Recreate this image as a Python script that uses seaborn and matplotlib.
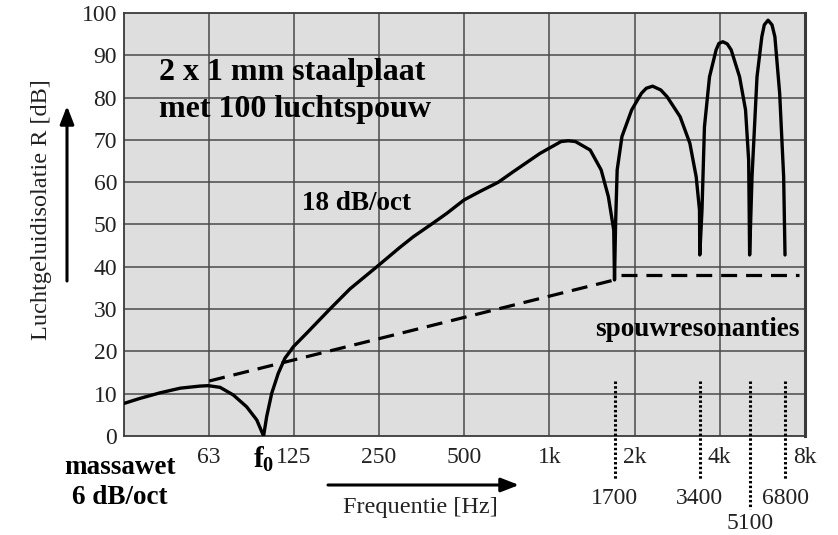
import matplotlib
matplotlib.use("Agg")
import matplotlib.pyplot as plt
import seaborn as sns

# axis ticks
freq_ticks = [63, 125, 250, 500, 1000, 2000, 4000, 8000]
freq_tick_labels = ["63", "125", "250", "500", "1k", "2k", "4k", "8k"]
db_ticks = list(range(0, 101, 10))

# mass-spring-mass resonance and cavity resonances [Hz]
f0 = 98
resonance_freqs = [1700, 3400, 5100, 6800]
resonance_labels = ["1700", "3400", "5100", "6800"]

# sound reduction index of the double steel panel
curve_freq = [31.5, 35.9, 42.2, 49.7, 58.4, 62.5, 68.8, 76.6, 85.4, 92.7, 98,
              100.5, 104.7, 110.4, 116.6, 121.5, 124.8, 139.1, 168, 198,
              246, 297, 331, 390, 434, 500, 569, 661, 747, 927, 1100, 1167,
              1238, 1395, 1525, 1617, 1689, 1700,
              1715, 1737, 1806, 1955, 2115, 2200, 2317, 2477, 2607, 2897,
              3137, 3302, 3393, 3400,
              3462, 3532, 3680, 3884, 3972, 4102, 4250, 4388, 4700, 4933,
              5060, 5100,
              5200, 5415, 5632, 5746, 5924, 6117, 6262, 6511, 6725, 6800]
curve_db = [7.7, 8.9, 10.2, 11.3, 11.8, 11.9, 11.5, 9.7, 6.9, 3.8, 0.0,
            4.6, 10.1, 14.8, 18.4, 20.0, 21.1, 24.3, 30.0, 34.8,
            40.0, 44.6, 47.1, 50.4, 52.6, 55.8, 57.8, 60.0, 62.5, 66.8, 69.6,
            69.8, 69.6, 67.6, 62.9, 56.6, 48.7, 36.9,
            50.3, 62.9, 70.8, 77.1, 81.0, 82.2, 82.7, 81.8, 80.2, 75.5,
            69.2, 61.3, 53.4, 42.8,
            53.4, 73.1, 84.9, 91.3, 92.8, 93.2, 92.7, 91.3, 84.9, 77.1,
            65.2, 42.8,
            61.3, 84.9, 94.4, 97.2, 98.3, 97.2, 94.4, 81.0, 61.3, 42.8]

# mass law (6 dB/oct) and the cavity plateau
mass_law_freq = [63, 1700]
mass_law_db = [13, 36.9]
plateau_freq = [1790, 7600]
plateau_db = [38, 38]

sns.set_theme(style="white")
plt.rcParams["font.family"] = ["Liberation Serif", "DejaVu Serif"]
plt.rcParams["mathtext.fontset"] = "custom"
plt.rcParams["mathtext.bf"] = "Liberation Serif:bold"
plt.rcParams["mathtext.rm"] = "Liberation Serif"

W, H = 838, 535
fig = plt.figure(figsize=(W / 100, H / 100), dpi=100)
fig.patch.set_facecolor("white")
ax = fig.add_axes([124 / W, 1 - 436 / H, (805 - 124) / W, (436 - 13) / H])
ax.set_facecolor("#dedede")
ax.set_xscale("log", base=2)
ax.set_xlim(31.5, 8000)
ax.set_ylim(0, 100)

grid_col = "#4a4a4a"
for f in freq_ticks[:-1]:
    ax.axvline(f, color=grid_col, lw=1.1, zorder=1)
for d in db_ticks[1:-1]:
    ax.axhline(d, color=grid_col, lw=1.1, zorder=1)

sns.lineplot(x=mass_law_freq, y=mass_law_db, ax=ax, color="black", lw=2.3,
             sort=False, estimator=None, zorder=3, linestyle=(0, (5, 2.8)))
sns.lineplot(x=plateau_freq, y=plateau_db, ax=ax, color="black", lw=2.3,
             sort=False, estimator=None, zorder=3, linestyle=(0, (5, 2.8)))
sns.lineplot(x=curve_freq, y=curve_db, ax=ax, color="black", lw=2.4,
             sort=False, estimator=None, zorder=4)

# cavity resonance markers, running below the axis
for f, lab in zip(resonance_freqs, resonance_labels):
    low = -17.3 if lab == "5100" else -10.5
    ax.plot([f, f], [13, low], color="black", lw=2.2, clip_on=False,
            linestyle=(0, (0.8, 0.75)), zorder=5)
    ty = -20.7 if lab == "5100" else -14.7
    ax.text(f, ty, lab, ha="center", va="center", fontsize=17,
            color="#222222", clip_on=False)

ax.set_xticks(freq_ticks)
ax.set_xticklabels(freq_tick_labels, fontsize=17, color="#222222")
ax.set_yticks(db_ticks)
ax.set_yticklabels([str(v) for v in db_ticks], fontsize=17, color="#222222")
ax.tick_params(axis="both", length=0)
ax.tick_params(axis="x", pad=8)
ax.tick_params(axis="y", pad=5)
ax.minorticks_off()
for side in ["left", "bottom", "top", "right"]:
    ax.spines[side].set_visible(True)
    ax.spines[side].set_color("#3a3a3a")
    ax.spines[side].set_linewidth(1.3)
ax.spines["right"].set_linewidth(2.2)
ax.set_xlabel("")
ax.set_ylabel("")

# resonance frequency label under the axis
ax.text(f0, -5.4, r"$\mathbf{f}_{\mathbf{0}}$", ha="center", va="center",
        fontsize=21, color="black", clip_on=False)


def fx(px):
    return px / W


def fy(py):
    return 1 - py / H


# annotations inside the plot
fig.text(fx(159), fy(72), "2 x 1 mm staalplaat", fontsize=23, fontweight="bold",
         ha="left", va="center", color="black")
fig.text(fx(159), fy(110), "met 100 luchtspouw", fontsize=23, fontweight="bold",
         ha="left", va="center", color="black")
fig.text(fx(356), fy(203), "18 dB/oct", fontsize=19.5, fontweight="bold",
         ha="center", va="center", color="black")
fig.text(fx(697), fy(329), "spouwresonanties", fontsize=19.5, fontweight="bold",
         ha="center", va="center", color="black")
fig.text(fx(120), fy(467), "massawet", fontsize=19.5, fontweight="bold",
         ha="center", va="center", color="black")
fig.text(fx(120), fy(498), "6 dB/oct", fontsize=19.5, fontweight="bold",
         ha="center", va="center", color="black")

# axis titles with arrows
fig.text(fx(41), fy(210), "Luchtgeluidisolatie R [dB]", rotation=90,
         fontsize=17.5, ha="center", va="center", color="#222222")
fig.text(fx(420), fy(507), "Frequentie [Hz]", fontsize=17.5,
         ha="center", va="center", color="#222222")
arrow = dict(arrowstyle="-|>,head_length=0.9,head_width=0.35", color="black",
             lw=2.2, shrinkA=0, shrinkB=0)
ax.annotate("", xy=(fx(67), fy(106)), xytext=(fx(67), fy(281)),
            xycoords="figure fraction", textcoords="figure fraction",
            arrowprops=arrow)
ax.annotate("", xy=(fx(519), fy(485)), xytext=(fx(328), fy(485)),
            xycoords="figure fraction", textcoords="figure fraction",
            arrowprops=arrow)

fig.savefig("out.png", dpi=100)
